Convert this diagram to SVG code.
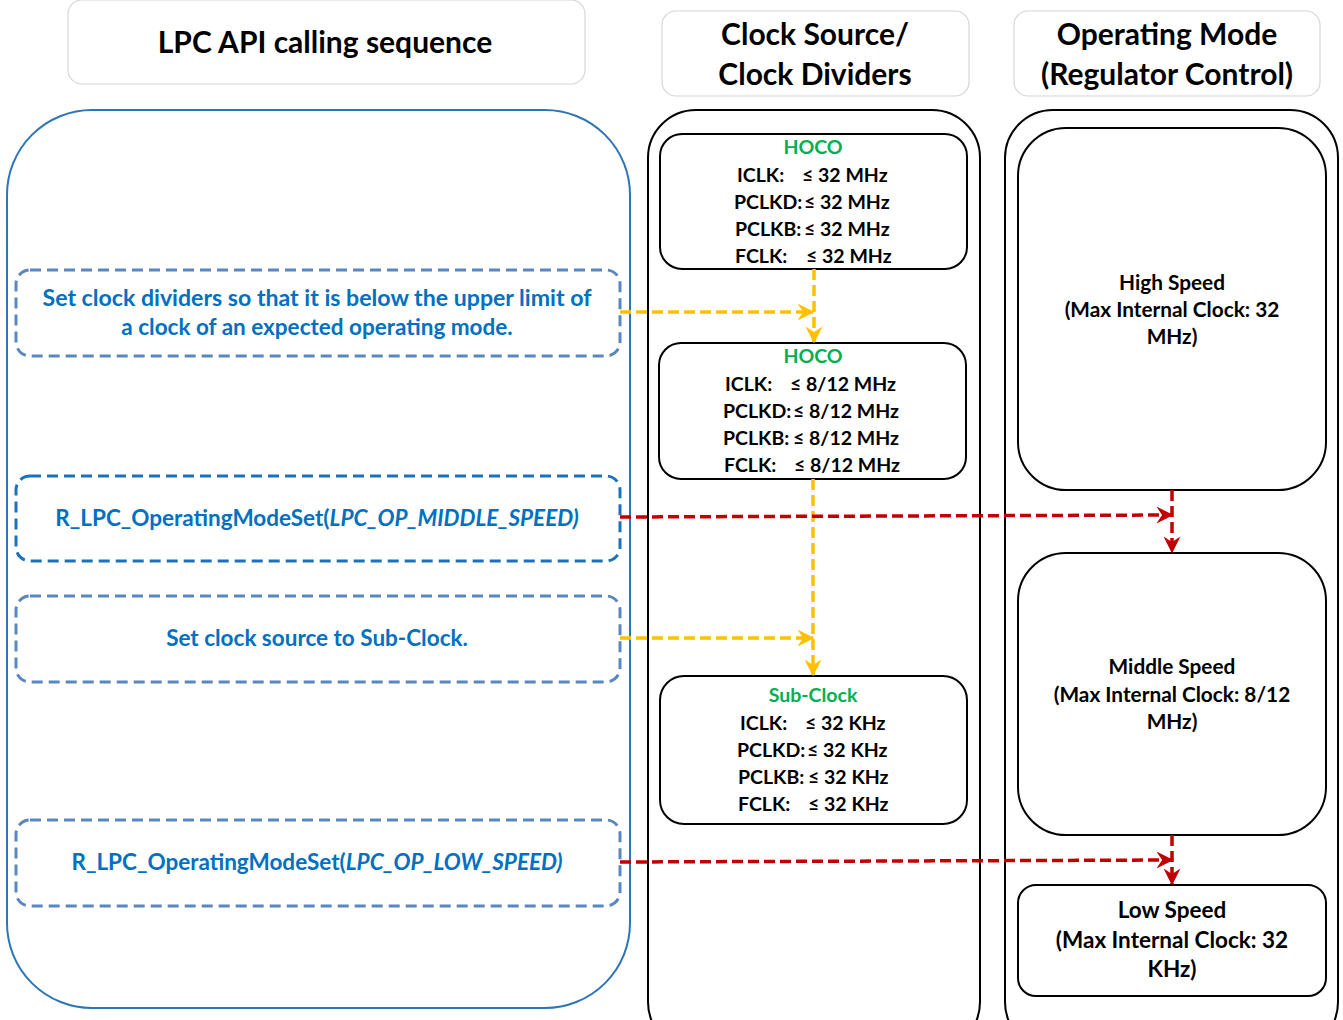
<svg xmlns="http://www.w3.org/2000/svg" width="1343" height="1020" viewBox="0 0 1343 1020">
<defs>
<style>
.t{font-family:Lato,"Liberation Sans",sans-serif;font-weight:bold;}
.hdr{fill:#fff;stroke:#d6d6d6;stroke-width:1.2;}
.ht{font-size:30px;fill:#000;text-anchor:middle;}
.col{fill:#fff;stroke:#000;stroke-width:2;}
.box{fill:#fff;stroke:#000;stroke-width:2;}
.ck{font-size:19.5px;fill:#000;}
.src{font-size:19.5px;fill:#00B050;text-anchor:middle;}
.mt{font-size:20.8px;fill:#000;text-anchor:middle;}
.dsh{fill:#fff;stroke:#5B87C0;stroke-width:3;stroke-dasharray:11 6;}
.dsh2{fill:#fff;stroke:#1D71BA;stroke-width:3;stroke-dasharray:11 6;}
.lt{font-size:22.5px;fill:#0070C0;text-anchor:middle;}
.y{fill:none;stroke:#FFC000;stroke-width:3.5;stroke-dasharray:11 5;}
.r{fill:none;stroke:#C00000;stroke-width:3.5;stroke-dasharray:11 5;}
</style>
<marker id="ay" viewBox="0 0 12 12" refX="11" refY="6" markerWidth="17" markerHeight="17" markerUnits="userSpaceOnUse" orient="auto">
<path d="M0,0 L12,6 L0,12 L4,6 Z" fill="#FFC000"/>
</marker>
<marker id="ar" viewBox="0 0 12 12" refX="11" refY="6" markerWidth="17" markerHeight="17" markerUnits="userSpaceOnUse" orient="auto">
<path d="M0,0 L12,6 L0,12 L4,6 Z" fill="#C00000"/>
</marker>
</defs>
<rect width="1343" height="1020" fill="#fff"/>

<g id="header-lpc">
<rect class="hdr" x="68" y="0" width="517" height="84" rx="14"/>
<text class="t ht" x="325" y="53">LPC API calling sequence</text>
</g>
<g id="header-clock">
<rect class="hdr" x="662" y="11" width="307" height="85" rx="14"/>
<text class="t ht" x="815" y="45">Clock Source/</text>
<text class="t ht" x="815" y="85">Clock Dividers</text>
</g>
<g id="header-mode">
<rect class="hdr" x="1014" y="11" width="306" height="85" rx="14"/>
<text class="t ht" x="1167" y="45">Operating Mode</text>
<text class="t ht" x="1167" y="85">(Regulator Control)</text>
</g>

<g id="lane-lpc">
<rect x="7" y="110" width="623" height="898" rx="85" fill="#fff" stroke="#2E75B6" stroke-width="2"/>
</g>
<g id="lane-clock">
<rect class="col" x="648" y="110" width="332" height="940" rx="48"/>
</g>
<g id="lane-mode">
<rect class="col" x="1005" y="110" width="333" height="940" rx="48"/>
</g>

<g id="hoco1">
<rect class="box" x="660" y="134" width="307" height="135" rx="22"/>
<text class="t src" x="813" y="154">HOCO</text>
<text class="t ck" x="737" y="182">ICLK:</text><text class="t ck" x="802" y="182">≤ 32 MHz</text>
<text class="t ck" x="734" y="209">PCLKD:</text><text class="t ck" x="804" y="209">≤ 32 MHz</text>
<text class="t ck" x="735" y="236">PCLKB:</text><text class="t ck" x="804" y="236">≤ 32 MHz</text>
<text class="t ck" x="735" y="263">FCLK:</text><text class="t ck" x="806" y="263">≤ 32 MHz</text>
</g>
<g id="hoco2">
<rect class="box" x="659" y="343" width="307" height="136" rx="22"/>
<text class="t src" x="813" y="363">HOCO</text>
<text class="t ck" x="725" y="391">ICLK:</text><text class="t ck" x="790" y="391">≤ 8/12 MHz</text>
<text class="t ck" x="723" y="418">PCLKD:</text><text class="t ck" x="793" y="418">≤ 8/12 MHz</text>
<text class="t ck" x="723" y="445">PCLKB:</text><text class="t ck" x="793" y="445">≤ 8/12 MHz</text>
<text class="t ck" x="724" y="472">FCLK:</text><text class="t ck" x="794" y="472">≤ 8/12 MHz</text>
</g>
<g id="subclock">
<rect class="box" x="660" y="676" width="307" height="148" rx="24"/>
<text class="t src" x="813" y="702">Sub-Clock</text>
<text class="t ck" x="740" y="730">ICLK:</text><text class="t ck" x="805" y="730">≤ 32 KHz</text>
<text class="t ck" x="737" y="757">PCLKD:</text><text class="t ck" x="807" y="757">≤ 32 KHz</text>
<text class="t ck" x="738" y="784">PCLKB:</text><text class="t ck" x="808" y="784">≤ 32 KHz</text>
<text class="t ck" x="738" y="811">FCLK:</text><text class="t ck" x="808" y="811">≤ 32 KHz</text>
</g>

<g id="high-speed">
<rect class="box" x="1018" y="128" width="308" height="362" rx="48"/>
<text class="t mt" x="1172" y="290">High Speed</text>
<text class="t mt" x="1172" y="317">(Max Internal Clock: 32</text>
<text class="t mt" x="1172" y="344">MHz)</text>
</g>
<g id="middle-speed">
<rect class="box" x="1018" y="553" width="308" height="282" rx="48"/>
<text class="t mt" x="1172" y="674">Middle Speed</text>
<text class="t mt" x="1172" y="702">(Max Internal Clock: 8/12</text>
<text class="t mt" x="1172" y="729">MHz)</text>
</g>
<g id="low-speed">
<rect class="box" x="1018" y="885" width="308" height="111" rx="18"/>
<text class="t mt" x="1172" y="918" style="font-size:22.5px">Low Speed</text>
<text class="t mt" x="1172" y="948" style="font-size:22.5px">(Max Internal Clock: 32</text>
<text class="t mt" x="1172" y="977" style="font-size:22.5px">KHz)</text>
</g>

<g id="step-dividers">
<rect class="dsh" x="16" y="270" width="604" height="86" rx="14"/>
<text class="t lt" x="317" y="306" textLength="549" lengthAdjust="spacingAndGlyphs">Set clock dividers so that it is below the upper limit of</text>
<text class="t lt" x="317" y="335">a clock of an expected operating mode.</text>
</g>
<g id="step-middle">
<rect class="dsh2" x="16" y="476" width="604" height="85" rx="14"/>
<text class="t lt" x="317" y="526">R_LPC_OperatingModeSet(<tspan font-style="italic">LPC_OP_MIDDLE_SPEED)</tspan></text>
</g>
<g id="step-subclock">
<rect class="dsh" x="16" y="596" width="604" height="86" rx="14"/>
<text class="t lt" x="317" y="646">Set clock source to Sub-Clock.</text>
</g>
<g id="step-low">
<rect class="dsh" x="16" y="820" width="604" height="86" rx="14"/>
<text class="t lt" x="317" y="870">R_LPC_OperatingModeSet(<tspan font-style="italic">LPC_OP_LOW_SPEED)</tspan></text>
</g>

<g id="connectors">
<path class="y" d="M620,312 L813,312" marker-end="url(#ay)"/>
<path class="y" d="M814,269 L814,342" marker-end="url(#ay)"/>
<path class="y" d="M813,479 L813,675" marker-end="url(#ay)"/>
<path class="y" d="M620,638 L813,638" marker-end="url(#ay)"/>
<path class="r" d="M620,517 L1172,515" marker-end="url(#ar)"/>
<path class="r" d="M1172,490 L1172,552" marker-end="url(#ar)"/>
<path class="r" d="M620,862 L1172,860" marker-end="url(#ar)"/>
<path class="r" d="M1172,835 L1172,884" marker-end="url(#ar)"/>
</g>
</svg>
